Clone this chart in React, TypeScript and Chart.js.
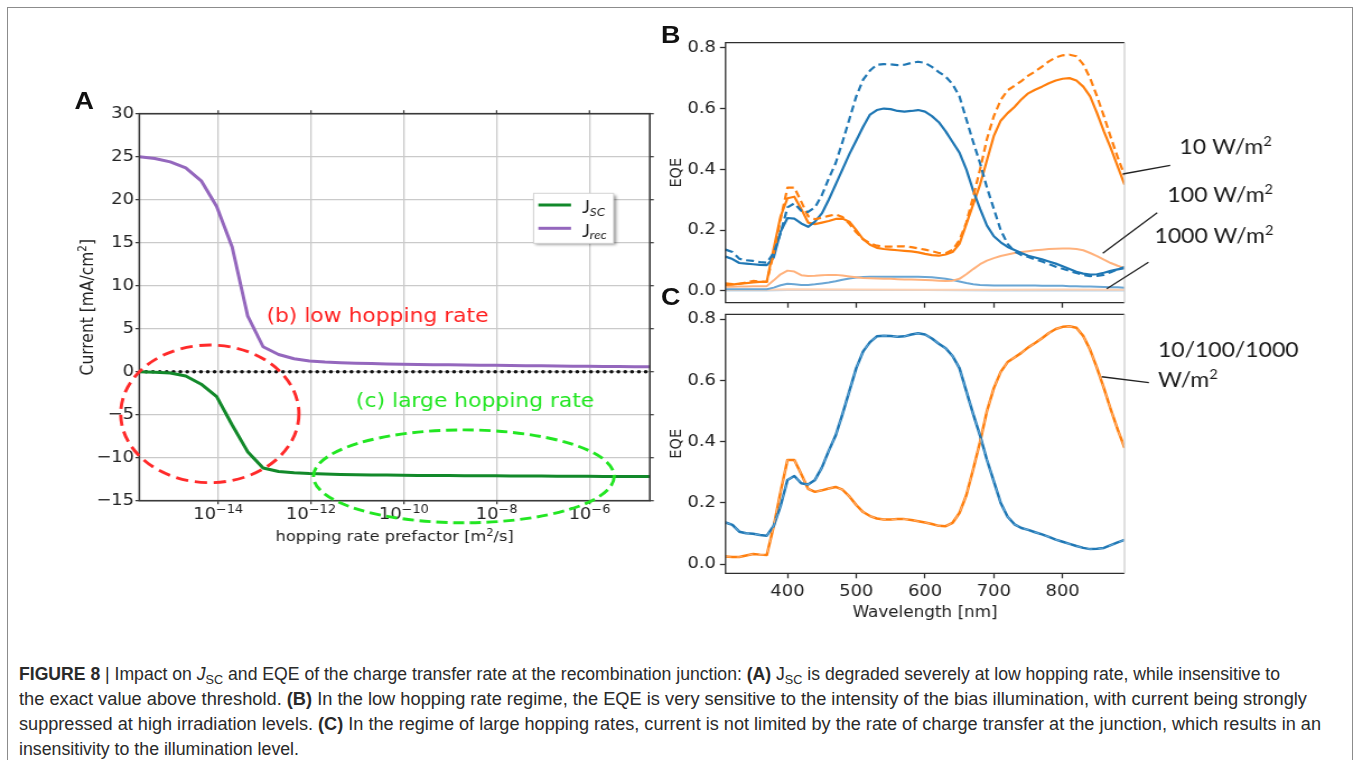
import React, { useEffect, useLayoutEffect, useRef } from "react";
import { Chart, registerables } from "chart.js";

Chart.register(...registerables);

// horizontal stretch of the figure image
const S = 1.12;

// ---------------- Panel A data ----------------
const hopRate = [2.0e-16, 4.31e-16, 9.28e-16, 2.0e-15, 4.31e-15, 9.28e-15, 2.0e-14, 4.31e-14, 9.28e-14, 2.0e-13, 4.31e-13, 9.28e-13, 2.0e-12, 4.31e-12, 9.28e-12, 2.0e-11, 4.31e-11, 9.28e-11, 2.0e-10, 4.31e-10, 9.28e-10, 2.0e-9, 4.31e-9, 9.28e-9, 2.0e-8, 4.31e-8, 9.28e-8, 2.0e-7, 4.31e-7, 9.28e-7, 2.0e-6, 4.31e-6, 9.28e-6, 2.0e-5];
const jsc = [0.0, -0.05, -0.15, -0.5, -1.45, -2.9, -6.2, -9.3, -11.2, -11.6, -11.75, -11.85, -11.9, -11.95, -11.98, -12.0, -12.02, -12.04, -12.06, -12.07, -12.08, -12.09, -12.1, -12.11, -12.12, -12.13, -12.14, -12.15, -12.16, -12.17, -12.18, -12.18, -12.19, -12.2];
const jrec = [25.0, 24.8, 24.4, 23.7, 22.2, 19.2, 14.5, 6.5, 2.9, 2.0, 1.5, 1.25, 1.12, 1.04, 0.98, 0.94, 0.9, 0.87, 0.84, 0.82, 0.8, 0.78, 0.76, 0.74, 0.72, 0.7, 0.68, 0.66, 0.64, 0.62, 0.61, 0.6, 0.59, 0.58];
const zeroLineX = [2e-16, 2e-5];
const zeroLineY = [0, 0];
const hopTicks = [1e-14, 1e-12, 1e-10, 1e-8, 1e-6];
const currentTicks = [-15, -10, -5, 0, 5, 10, 15, 20, 25, 30];
const seriesMain = ["J", "J"];
const seriesSub = ["SC", "rec"];
const annoTexts = ["(b) low hopping rate", "(c) large hopping rate"];
const annoExp = [-12.96, -11.03];
const annoBase = [5.8, -4.12];
const ellipseCenterExp = [-14.18, -8.707];
const ellipseCenterY = [-4.9, -12.17];
const ellipseRadiusDec = [1.92, 3.24];
const ellipseRadiusY = [8.0, 5.4];

// ---------------- Panel B / C data ----------------
const wl = [310, 320, 330, 340, 350, 360, 370, 380, 390, 400, 410, 420, 430, 440, 450, 460, 470, 480, 490, 500, 510, 520, 530, 540, 550, 560, 570, 580, 590, 600, 610, 620, 630, 640, 650, 660, 670, 680, 690, 700, 710, 720, 730, 740, 750, 760, 770, 780, 790, 800, 810, 820, 830, 840, 850, 860, 870, 880, 890];
const eqeRefBlue = [0.136, 0.128, 0.106, 0.101, 0.099, 0.095, 0.093, 0.125, 0.19, 0.275, 0.288, 0.264, 0.26, 0.275, 0.315, 0.37, 0.42, 0.49, 0.565, 0.64, 0.695, 0.725, 0.744, 0.746, 0.745, 0.743, 0.744, 0.75, 0.754, 0.75, 0.737, 0.72, 0.705, 0.68, 0.64, 0.565, 0.49, 0.42, 0.34, 0.27, 0.2, 0.155, 0.13, 0.118, 0.112, 0.104, 0.097, 0.089, 0.08, 0.073, 0.066, 0.059, 0.053, 0.049, 0.05, 0.053, 0.062, 0.071, 0.079];
const eqeRefOrange = [0.025, 0.023, 0.023, 0.028, 0.033, 0.031, 0.03, 0.124, 0.236, 0.34, 0.34, 0.294, 0.246, 0.236, 0.241, 0.247, 0.252, 0.243, 0.221, 0.193, 0.17, 0.157, 0.149, 0.146, 0.146, 0.147, 0.147, 0.144, 0.14, 0.136, 0.131, 0.125, 0.124, 0.135, 0.167, 0.225, 0.31, 0.4, 0.5, 0.575, 0.628, 0.66, 0.675, 0.69, 0.708, 0.722, 0.738, 0.755, 0.768, 0.775, 0.777, 0.772, 0.745, 0.7, 0.64, 0.575, 0.505, 0.44, 0.38];
const eqe10Blue = [0.113, 0.105, 0.092, 0.09, 0.088, 0.086, 0.085, 0.11, 0.195, 0.24, 0.238, 0.222, 0.211, 0.228, 0.255, 0.3, 0.35, 0.4, 0.45, 0.495, 0.54, 0.58, 0.595, 0.6, 0.598, 0.592, 0.59, 0.592, 0.595, 0.59, 0.575, 0.555, 0.525, 0.49, 0.455, 0.4, 0.33, 0.27, 0.215, 0.18, 0.16, 0.145, 0.135, 0.125, 0.116, 0.11, 0.104, 0.097, 0.09, 0.081, 0.072, 0.063, 0.057, 0.054, 0.055, 0.06, 0.066, 0.071, 0.075];
const eqe10Orange = [0.02, 0.021, 0.024, 0.026, 0.028, 0.03, 0.031, 0.14, 0.245, 0.305, 0.31, 0.27, 0.225, 0.22, 0.225, 0.23, 0.237, 0.238, 0.228, 0.2, 0.17, 0.152, 0.142, 0.138, 0.136, 0.134, 0.132, 0.13, 0.127, 0.122, 0.118, 0.116, 0.12, 0.128, 0.155, 0.22, 0.285, 0.35, 0.43, 0.51, 0.56, 0.585, 0.605, 0.63, 0.65, 0.662, 0.672, 0.683, 0.692, 0.698, 0.7, 0.692, 0.672, 0.64, 0.585, 0.525, 0.47, 0.41, 0.35];
const eqe100Orange = [0.014, 0.014, 0.015, 0.015, 0.016, 0.016, 0.016, 0.035, 0.055, 0.067, 0.064, 0.052, 0.049, 0.05, 0.052, 0.053, 0.053, 0.051, 0.048, 0.045, 0.043, 0.042, 0.041, 0.04, 0.04, 0.039, 0.038, 0.038, 0.037, 0.036, 0.035, 0.034, 0.033, 0.034, 0.04, 0.055, 0.072, 0.088, 0.1, 0.108, 0.115, 0.12, 0.125, 0.128, 0.131, 0.134, 0.136, 0.138, 0.139, 0.14, 0.14, 0.138, 0.134, 0.125, 0.115, 0.103, 0.092, 0.083, 0.075];
const eqe100Blue = [0.006, 0.006, 0.006, 0.006, 0.006, 0.006, 0.006, 0.011, 0.019, 0.024, 0.022, 0.02, 0.02, 0.022, 0.025, 0.028, 0.032, 0.037, 0.041, 0.044, 0.046, 0.047, 0.047, 0.047, 0.047, 0.047, 0.047, 0.047, 0.047, 0.046, 0.045, 0.043, 0.04, 0.036, 0.031, 0.026, 0.022, 0.02, 0.019, 0.018, 0.018, 0.018, 0.018, 0.018, 0.018, 0.018, 0.017, 0.017, 0.017, 0.017, 0.016, 0.016, 0.015, 0.015, 0.014, 0.013, 0.012, 0.012, 0.011];
const wl1000 = [310, 370, 400, 500, 600, 700, 800, 890];
const eqe1000Orange = [0.004, 0.004, 0.006, 0.005, 0.004, 0.004, 0.005, 0.004];
const eqe1000Blue = [0.002, 0.002, 0.003, 0.003, 0.003, 0.002, 0.002, 0.002];
const wlTicks = [400, 500, 600, 700, 800];
const eqeTicks = [0, 0.2, 0.4, 0.6, 0.8];
const bLabelText = ["10 W/m", "100 W/m", "1000 W/m"];
const bLabelNm = [969.9, 952.4, 933.5];
const bLabelEqe = [0.4505, 0.2936, 0.1588];
const bLeaderFrom = [[887.5, 0.3847], [858.4, 0.124], [864.2, 0.0076]];
const bLeaderTo = [[956.4, 0.4134], [937.5, 0.2575], [924.8, 0.0944]];
const cLabelText = ["10/100/1000", "W/m"];
const cLabelSup = ["", "2"];
const cLabelNm = [938.6, 938.6];
const cLabelEqe = [0.675, 0.5775];
const cLeaderFrom = [856.8, 0.612];
const cLeaderTo = [925.4, 0.5925];

const BLUE = "#1f77b4";
const ORANGE = "#ff7f0e";
const DJ = '"DejaVu Sans"';
const LATO = "Lato";
const TICK_FONT = 16;

type Seg = { t: string; size: number; dy?: number; italic?: boolean };
function drawSegs(ctx: any, x: number, y: number, segs: Seg[], align: string, family: string) {
  const font = (s: Seg) => `${s.italic ? "italic " : ""}${s.size}px ${family}`;
  const widths = segs.map((s) => {
    ctx.font = font(s);
    return ctx.measureText(s.t).width;
  });
  const total = widths.reduce((a, b) => a + b, 0);
  let cx = align === "center" ? x - total / 2 : x;
  ctx.textAlign = "left";
  ctx.textBaseline = "alphabetic";
  segs.forEach((s, i) => {
    ctx.font = font(s);
    ctx.fillText(s.t, cx, y + (s.dy || 0));
    cx += widths[i];
  });
}

function line(ctx: any, x1: number, y1: number, x2: number, y2: number) {
  ctx.beginPath();
  ctx.moveTo(x1, y1);
  ctx.lineTo(x2, y2);
  ctx.stroke();
}

const pts = (xs: number[], ys: number[]) => xs.map((x, i) => ({ x, y: ys[i] }));

// ---------------- Panel A config ----------------
const aDecor = {
  id: "aDecor",
  afterDraw(chart: any) {
    const { ctx, chartArea: ca } = chart;
    const xs = chart.scales.x;
    const ys = chart.scales.y;
    ctx.save();
    // frame
    ctx.strokeStyle = "#3a3a3a";
    ctx.lineWidth = 1.6;
    ctx.strokeRect(ca.left, ca.top, ca.right - ca.left, ca.bottom - ca.top);
    ctx.lineWidth = 1.2;
    hopTicks.forEach((v) => {
      const p = xs.getPixelForValue(v);
      line(ctx, p, ca.top, p, ca.top - 3.5);
    });
    currentTicks.forEach((v) => {
      const p = ys.getPixelForValue(v);
      line(ctx, ca.right, p, ca.right + 3.5, p);
    });
    // x tick labels 10^n
    ctx.fillStyle = "#222";
    hopTicks.forEach((v) => {
      const p = xs.getPixelForValue(v);
      const e = Math.round(Math.log10(v));
      drawSegs(ctx, p, ca.bottom + 18, [
        { t: "10", size: TICK_FONT },
        { t: (e < 0 ? "\u2212" : "") + Math.abs(e), size: 11.5, dy: -6 },
      ], "center", DJ);
    });
    // axis titles
    drawSegs(ctx, (ca.left + ca.right) / 2, ca.bottom + 40.5, [
      { t: "hopping rate prefactor [m", size: 14.5 },
      { t: "2", size: 10, dy: -5.5 },
      { t: "/s]", size: 14.5 },
    ], "center", DJ);
    ctx.save();
    ctx.translate(ca.left - 41.3, (ca.top + ca.bottom) / 2);
    ctx.rotate(-Math.PI / 2);
    drawSegs(ctx, 0, 0, [
      { t: "Current [mA/cm", size: 15.5 },
      { t: "2", size: 10.5, dy: -6 },
      { t: "]", size: 15.5 },
    ], "center", DJ);
    ctx.restore();
    // annotations
    const annoColors = ["#ff2020", "#22e622"];
    annoTexts.forEach((t, i) => {
      ctx.fillStyle = annoColors[i];
      drawSegs(ctx, xs.getPixelForValue(Math.pow(10, annoExp[i])), ys.getPixelForValue(annoBase[i]), [{ t, size: 19.5 }], "left", DJ);
    });
    const ellColors = ["#ff2a2a", "#22e622"];
    const ellDash = [[11, 6], [10, 5]];
    ellipseCenterExp.forEach((ce, i) => {
      const cx = xs.getPixelForValue(Math.pow(10, ce));
      const rx = xs.getPixelForValue(Math.pow(10, ce + ellipseRadiusDec[i])) - cx;
      const cy = ys.getPixelForValue(ellipseCenterY[i]);
      const ry = cy - ys.getPixelForValue(ellipseCenterY[i] + ellipseRadiusY[i]);
      ctx.strokeStyle = ellColors[i];
      ctx.lineWidth = 2.9;
      ctx.setLineDash(ellDash[i]);
      ctx.beginPath();
      ctx.ellipse(cx, cy, rx, ry, 0, 0, Math.PI * 2);
      ctx.stroke();
    });
    ctx.setLineDash([]);
    // legend
    const bx = ca.right - 103.75;
    const by = ca.top + 79.6;
    const bw = 71.4;
    const bh = 50;
    ctx.save();
    ctx.shadowColor = "rgba(0,0,0,0.45)";
    ctx.shadowBlur = 3;
    ctx.shadowOffsetX = 2;
    ctx.shadowOffsetY = 2;
    ctx.fillStyle = "#fff";
    ctx.fillRect(bx, by, bw, bh);
    ctx.restore();
    ctx.strokeStyle = "#d4d4d4";
    ctx.lineWidth = 1;
    ctx.strokeRect(bx, by, bw, bh);
    const dsets = chart.data.datasets;
    [0, 1].forEach((i) => {
      const ly = by + 11.7 + i * 23.3;
      ctx.strokeStyle = dsets[i].borderColor;
      ctx.lineWidth = 3;
      line(ctx, bx + 4.2, ly, bx + 33.4, ly);
      ctx.fillStyle = "#222";
      drawSegs(ctx, bx + 43.2, ly + 8.3, [
        { t: seriesMain[i], size: 16.5 },
        { t: seriesSub[i], size: 12, dy: 2.5, italic: true },
      ], "left", LATO);
    });
    ctx.restore();
  },
};

function configA(): any {
  return {
    type: "line",
    data: {
      datasets: [
        { label: "Jsc", data: pts(hopRate, jsc), borderColor: "#12892a", borderWidth: 3 },
        { label: "Jrec", data: pts(hopRate, jrec), borderColor: "#9467bd", borderWidth: 3 },
        { label: "zero", data: pts(zeroLineX, zeroLineY), borderColor: "#111", borderWidth: 3.6, borderDash: [0.01, 6.1], borderCapStyle: "round" },
      ],
    },
    options: {
      responsive: false,
      animation: false,
      devicePixelRatio: 1,
      layout: { padding: { left: 0, right: 9.8, top: 23.7, bottom: 0 } },
      plugins: { legend: { display: false }, tooltip: { enabled: false } },
      elements: { point: { radius: 0 }, line: { tension: 0, borderJoinStyle: "round" } },
      scales: {
        x: {
          type: "logarithmic",
          min: 2e-16,
          max: 2e-5,
          afterBuildTicks: (s: any) => { s.ticks = hopTicks.map((value) => ({ value })); },
          afterFit: (s: any) => { s.height = 59.3; },
          ticks: { display: false, autoSkip: false, maxRotation: 0 },
          grid: { color: "#cacaca", lineWidth: 1.3, tickColor: "#333", tickLength: 3.5, tickWidth: 1.2 },
          border: { display: false },
        },
        y: {
          type: "linear",
          min: -15,
          max: 30,
          afterBuildTicks: (s: any) => { s.ticks = currentTicks.map((value) => ({ value })); },
          afterFit: (s: any) => { s.width = 88.39; },
          ticks: {
            callback: (v: any) => String(v).replace("-", "\u2212"),
            font: { family: "DejaVu Sans", size: TICK_FONT },
            color: "#222",
            padding: 1.2,
          },
          grid: { color: "#cacaca", lineWidth: 1.3, tickColor: "#333", tickLength: 3.5, tickWidth: 1.2 },
          border: { display: false },
        },
      },
    },
    plugins: [aDecor],
  };
}

// ---------------- Panel B / C ----------------
function frameEQE(ctx: any, ca: any) {
  ctx.strokeStyle = "#2e2e2e";
  ctx.lineWidth = 1.3;
  ctx.beginPath();
  ctx.moveTo(ca.right, ca.top);
  ctx.lineTo(ca.left, ca.top);
  ctx.lineTo(ca.left, ca.bottom);
  ctx.lineTo(ca.right, ca.bottom);
  ctx.stroke();
  ctx.strokeStyle = "#cfcfcf";
  line(ctx, ca.right, ca.top, ca.right, ca.bottom);
  ctx.fillStyle = "#222";
  ctx.save();
  ctx.translate(ca.left - 39.5, (ca.top + ca.bottom) / 2);
  ctx.rotate(-Math.PI / 2);
  drawSegs(ctx, 0, 0, [{ t: "EQE", size: 14.5 }], "center", DJ);
  ctx.restore();
}

const bDecor = {
  id: "bDecor",
  afterDraw(chart: any) {
    const { ctx, chartArea: ca } = chart;
    const xs = chart.scales.x;
    const ys = chart.scales.y;
    ctx.save();
    frameEQE(ctx, ca);
    ctx.strokeStyle = "#222";
    ctx.lineWidth = 1.3;
    bLeaderFrom.forEach((f, i) => {
      const t = bLeaderTo[i];
      line(ctx, xs.getPixelForValue(f[0]), ys.getPixelForValue(f[1]), xs.getPixelForValue(t[0]), ys.getPixelForValue(t[1]));
    });
    ctx.fillStyle = "#1a1a1a";
    bLabelText.forEach((t, i) => {
      drawSegs(ctx, xs.getPixelForValue(bLabelNm[i]), ys.getPixelForValue(bLabelEqe[i]), [
        { t, size: 20.5 },
        { t: "2", size: 13, dy: -8 },
      ], "left", LATO);
    });
    ctx.restore();
  },
};

const cDecor = {
  id: "cDecor",
  afterDraw(chart: any) {
    const { ctx, chartArea: ca } = chart;
    const xs = chart.scales.x;
    const ys = chart.scales.y;
    ctx.save();
    frameEQE(ctx, ca);
    drawSegs(ctx, (ca.left + ca.right) / 2, ca.bottom + 44, [{ t: "Wavelength [nm]", size: 15 }], "center", DJ);
    ctx.strokeStyle = "#222";
    ctx.lineWidth = 1.3;
    line(ctx, xs.getPixelForValue(cLeaderFrom[0]), ys.getPixelForValue(cLeaderFrom[1]), xs.getPixelForValue(cLeaderTo[0]), ys.getPixelForValue(cLeaderTo[1]));
    ctx.fillStyle = "#1a1a1a";
    cLabelText.forEach((t, i) => {
      const segs: Seg[] = [{ t, size: 20.5 }];
      if (cLabelSup[i]) segs.push({ t: cLabelSup[i], size: 13, dy: -8 });
      drawSegs(ctx, xs.getPixelForValue(cLabelNm[i]), ys.getPixelForValue(cLabelEqe[i]), segs, "left", LATO);
    });
    ctx.restore();
  },
};

function eqeScales(yMin: number, yMax: number, xHeight: number, showX: boolean): any {
  return {
    x: {
      type: "linear",
      min: 310,
      max: 890,
      afterBuildTicks: (s: any) => { s.ticks = wlTicks.map((value) => ({ value })); },
      afterFit: (s: any) => { s.height = xHeight; },
      ticks: { display: showX, font: { family: "DejaVu Sans", size: TICK_FONT }, color: "#222", padding: 4, maxRotation: 0, autoSkip: false },
      grid: { drawOnChartArea: false, drawTicks: true, tickLength: 5, tickColor: "#2e2e2e", tickWidth: 1.3 },
      border: { display: false },
    },
    y: {
      type: "linear",
      min: yMin,
      max: yMax,
      afterBuildTicks: (s: any) => { s.ticks = eqeTicks.map((value) => ({ value })); },
      afterFit: (s: any) => { s.width = 76.79; },
      ticks: { callback: (v: any) => Number(v).toFixed(1), font: { family: "DejaVu Sans", size: TICK_FONT }, color: "#222", padding: 3.5 },
      grid: { drawOnChartArea: false, drawTicks: true, tickLength: 5, tickColor: "#2e2e2e", tickWidth: 1.3 },
      border: { display: false },
    },
  };
}

function baseOpts(top: number, right: number): any {
  return {
    responsive: false,
    animation: false,
    devicePixelRatio: 1,
    layout: { padding: { left: 0, right, top, bottom: 0 } },
    plugins: { legend: { display: false }, tooltip: { enabled: false } },
    elements: { point: { radius: 0 }, line: { tension: 0, borderJoinStyle: "round" } },
  };
}

function configB(): any {
  return {
    type: "line",
    data: {
      datasets: [
        { label: "ref blue", data: pts(wl, eqeRefBlue), borderColor: BLUE, borderWidth: 2.2, borderDash: [7, 4] },
        { label: "ref orange", data: pts(wl, eqeRefOrange), borderColor: ORANGE, borderWidth: 2.2, borderDash: [7, 4] },
        { label: "10 blue", data: pts(wl, eqe10Blue), borderColor: BLUE, borderWidth: 2.2 },
        { label: "10 orange", data: pts(wl, eqe10Orange), borderColor: ORANGE, borderWidth: 2.2 },
        { label: "100 orange", data: pts(wl, eqe100Orange), borderColor: "#ffb27d", borderWidth: 2 },
        { label: "100 blue", data: pts(wl, eqe100Blue), borderColor: "#6aa6d4", borderWidth: 2 },
        { label: "1000 orange", data: pts(wl1000, eqe1000Orange), borderColor: "#ffd2b3", borderWidth: 2 },
        { label: "1000 blue", data: pts(wl1000, eqe1000Blue), borderColor: "#b8d3ea", borderWidth: 2 },
      ],
    },
    options: { ...baseOpts(22.7, 191.96), scales: eqeScales(-0.0385, 0.8165, 27.3, false) },
    plugins: [bDecor],
  };
}

function configC(): any {
  return {
    type: "line",
    data: {
      datasets: [
        { label: "blue dash", data: pts(wl, eqeRefBlue), borderColor: "#63a6d6", borderWidth: 1.1, borderDash: [5, 5] },
        { label: "orange dash", data: pts(wl, eqeRefOrange), borderColor: "#ffb072", borderWidth: 1.1, borderDash: [5, 5] },
        { label: "blue", data: pts(wl, eqeRefBlue), borderColor: BLUE, borderWidth: 2.5 },
        { label: "orange", data: pts(wl, eqeRefOrange), borderColor: ORANGE, borderWidth: 2.5 },
      ],
    },
    options: { ...baseOpts(14.3, 191.96), scales: eqeScales(-0.03, 0.816, 56.7, true) },
    plugins: [cDecor],
  };
}

function ChartBox(props: { left: number; top: number; width: number; height: number; make: () => any }) {
  const ref = useRef<HTMLCanvasElement>(null);
  useEffect(() => {
    const chart = new Chart(ref.current as HTMLCanvasElement, props.make());
    return () => chart.destroy();
  }, []);
  return (
    <canvas
      ref={ref}
      width={props.width}
      height={props.height}
      style={{ position: "absolute", left: props.left, top: props.top, width: props.width, height: props.height }}
    />
  );
}

function CaptionLine(props: { left: number; right: number; top: number; children: any }) {
  const ref = useRef<HTMLSpanElement>(null);
  useLayoutEffect(() => {
    const fit = () => {
      const el = ref.current;
      if (!el) return;
      el.style.transform = "none";
      const w = el.getBoundingClientRect().width;
      if (w > 0) el.style.transform = `scaleX(${(props.right - props.left) / w})`;
    };
    fit();
    if ((document as any).fonts && (document as any).fonts.ready) (document as any).fonts.ready.then(fit);
  }, []);
  return (
    <span
      ref={ref}
      style={{
        position: "absolute",
        left: props.left,
        top: props.top,
        whiteSpace: "nowrap",
        display: "inline-block",
        transformOrigin: "0 0",
        lineHeight: "20px",
      }}
    >
      {props.children}
    </span>
  );
}

const subStyle: any = { fontSize: "0.72em", verticalAlign: "-0.28em", lineHeight: 0 };

export default function App() {
  const letter: any = { position: "absolute", fontFamily: '"Liberation Sans", Arial, sans-serif', fontWeight: "bold", fontSize: 24, lineHeight: "24px", color: "#111" };
  return (
    <div style={{ position: "absolute", left: 0, top: 0, width: 1356, height: 760, overflow: "hidden", background: "#fff" }}>
      <div style={{ position: "absolute", left: 7, top: 7, width: 1344, height: 800, border: "1px solid #8c8c8c" }} />
      <div style={{ position: "absolute", left: 0, top: 0, width: 1356 / S, height: 640, transform: `scaleX(${S})`, transformOrigin: "0 0" }}>
        <div style={{ ...letter, left: 74.6 / S, top: 88.8 }}>A</div>
        <div style={{ ...letter, left: 661 / S, top: 23.3 }}>B</div>
        <div style={{ ...letter, left: 661 / S, top: 285 }}>C</div>
        <ChartBox left={40 / S} top={90} width={554} height={470} make={configA} />
        <ChartBox left={640 / S} top={20} width={625} height={310} make={configB} />
        <ChartBox left={640 / S} top={300} width={625} height={330} make={configC} />
      </div>
      <div style={{ position: "absolute", left: 0, top: 0, fontFamily: '"Liberation Sans", Arial, sans-serif', fontSize: 17.5, color: "#2a2a2a" }}>
        <CaptionLine left={19} right={1280} top={664}>
          <b>FIGURE 8</b> | Impact on <i>J</i><sub style={subStyle}>SC</sub> and EQE of the charge transfer rate at the recombination junction: <b>(A)</b> J<sub style={subStyle}>SC</sub> is degraded severely at low hopping rate, while insensitive to
        </CaptionLine>
        <CaptionLine left={19} right={1307} top={689}>
          the exact value above threshold. <b>(B)</b> In the low hopping rate regime, the EQE is very sensitive to the intensity of the bias illumination, with current being strongly
        </CaptionLine>
        <CaptionLine left={19} right={1321} top={714}>
          suppressed at high irradiation levels. <b>(C)</b> In the regime of large hopping rates, current is not limited by the rate of charge transfer at the junction, which results in an
        </CaptionLine>
        <CaptionLine left={19} right={299} top={738.5}>
          insensitivity to the illumination level.
        </CaptionLine>
      </div>
    </div>
  );
}
